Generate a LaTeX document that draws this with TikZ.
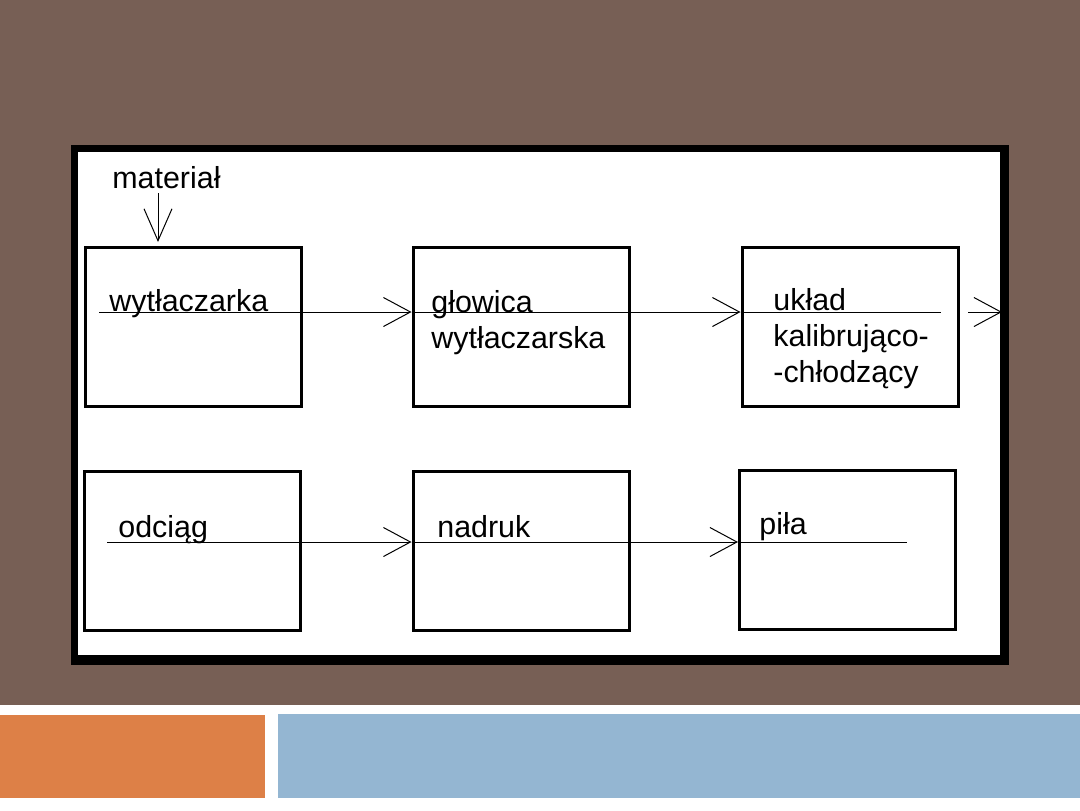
\documentclass[tikz,border=0pt]{standalone}
\usepackage{fontspec}
\setmainfont{Liberation Sans}
\usetikzlibrary{arrows.meta}
\definecolor{bgbrown}{HTML}{775F55}
\definecolor{barorange}{HTML}{DD8047}
\definecolor{barblue}{HTML}{94B6D2}
\tikzset{
  box/.style={draw=black, line width=1.5pt, minimum width=108pt, minimum height=79.5pt, inner sep=0pt, fill=white},
  lbl/.style={anchor=base west, inner sep=0pt, font=\fontsize{15.2}{18}\selectfont, align=left, text=black},
  flow/.style={line width=0.5pt, -{Straight Barb[length=13.5pt, width=14.5pt, line width=0.5pt]}},
  plain/.style={line width=0.5pt},
  inarr/.style={line width=0.5pt, -{Straight Barb[length=16pt, width=14pt, line width=0.5pt]}, shorten >=2pt}
}
\begin{document}
\begin{tikzpicture}[x=0.5pt,y=-0.5pt]
\useasboundingbox (0,0) rectangle (1080,810);
% slide background
\fill[white] (0,0) rectangle (1080,810);
\fill[bgbrown] (0,0) rectangle (1080,705);
\fill[barorange] (0,715) rectangle (265,798);
\fill[barblue] (278,714) rectangle (1080,798);
% frame of picture
\fill[black] (71,145) rectangle (1009,665);
\fill[white] (78,152) rectangle (1000,655);
% boxes
\node[box] (b1) at (193.5,327) {};
\node[box] (b2) at (521,327) {};
\node[box] (b3) at (850,327) {};
\node[box] (b4) at (192.5,551) {};
\node[box] (b5) at (521,550.5) {};
\node[box] (b6) at (847.5,550) {};
% labels (multi-line labels are placed by the baseline of their last line)
\node[lbl] (tm) at (112,188) {materiał};
\node[lbl] (t1) at (109,311) {wytłaczarka};
\node[lbl] (t2) at (431,348) {głowica\\wytłaczarska};
\node[lbl] (t3) at (773,382) {układ\\kalibrująco-\\-chłodzący};
\node[lbl] (t4) at (118,537) {odciąg};
\node[lbl] (t5) at (437,537) {nadruk};
\node[lbl] (t6) at (759,534) {piła};
% connector coordinates
\coordinate (m1) at (158,193);
\coordinate (s1) at (99,312);
\coordinate (e1) at (941,312);
\coordinate (o1) at (968,312);
\coordinate (o2) at (1002,312);
\coordinate (s2) at (107,542);
\coordinate (e2) at (907,542);
% connectors
\draw[inarr] (m1) -- (m1 |- b1.north);
\draw[flow] (s1) -- (s1 -| b2.west);
\draw[flow] (s1 -| b2.west) -- (s1 -| b3.west);
\draw[plain] (s1 -| b3.west) -- (e1);
\draw[flow] (o1) -- (o2);
\draw[flow] (s2) -- (s2 -| b5.west);
\draw[flow] (s2 -| b5.west) -- (s2 -| b6.west);
\draw[plain] (s2 -| b6.west) -- (e2);
\end{tikzpicture}
\end{document}
